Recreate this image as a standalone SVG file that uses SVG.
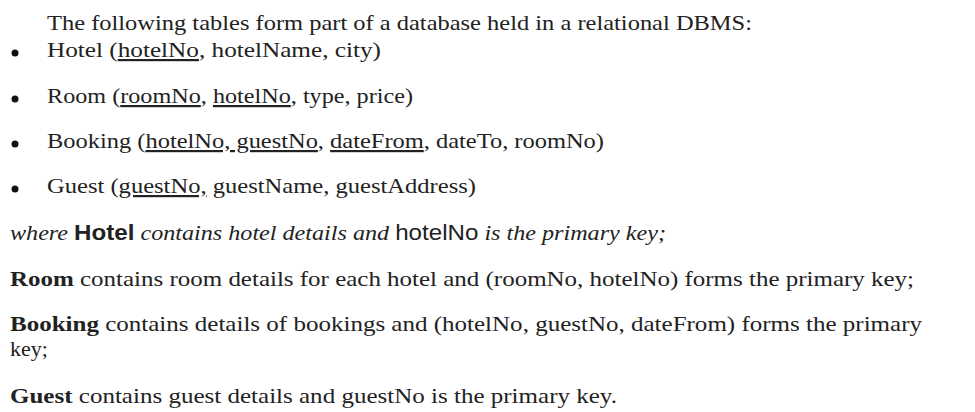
<svg xmlns="http://www.w3.org/2000/svg" width="975" height="412" viewBox="0 0 975 412">
<style>
text{font-family:"Liberation Serif","DejaVu Serif",serif;font-size:22px;fill:#222}
.u{text-decoration:underline}
.s{font-family:"Liberation Sans",Arial,sans-serif}
.b{font-weight:bold}
.i{font-style:italic}
circle{fill:#111}
</style>
<rect width="975" height="412" fill="#fff"/>
<text x="47" y="30" textLength="705" lengthAdjust="spacingAndGlyphs">The following tables form part of a database held in a relational DBMS:</text>
<circle cx="15" cy="53" r="3.5"/>
<text x="47" y="57" textLength="334" lengthAdjust="spacingAndGlyphs">Hotel (<tspan class="u">hotelNo</tspan>, hotelName, city)</text>
<circle cx="15" cy="99" r="3.5"/>
<text x="47" y="103" textLength="366" lengthAdjust="spacingAndGlyphs">Room (<tspan class="u">roomNo</tspan>, <tspan class="u">hotelNo</tspan>, type, price)</text>
<circle cx="15" cy="144" r="3.5"/>
<text x="47" y="148" textLength="557" lengthAdjust="spacingAndGlyphs">Booking (<tspan class="u">hotelNo, guestNo</tspan>, <tspan class="u">dateFrom</tspan>, dateTo, roomNo)</text>
<circle cx="15" cy="189" r="3.5"/>
<text x="47" y="193" textLength="429" lengthAdjust="spacingAndGlyphs">Guest (<tspan class="u">guestNo,</tspan> guestName, guestAddress)</text>
<text x="10" y="240" class="i" textLength="656" lengthAdjust="spacingAndGlyphs">where <tspan class="s b" font-style="normal">Hotel</tspan> contains hotel details and <tspan class="s" font-style="normal">hotelNo</tspan> is the primary key;</text>
<text x="10" y="286" textLength="904" lengthAdjust="spacingAndGlyphs"><tspan class="b">Room</tspan> contains room details for each hotel and (roomNo, hotelNo) forms the primary key;</text>
<text x="10" y="331" textLength="912" lengthAdjust="spacingAndGlyphs"><tspan class="b">Booking</tspan> contains details of bookings and (hotelNo, guestNo, dateFrom) forms the primary</text>
<text x="10" y="356">key;</text>
<text x="10" y="403" textLength="607" lengthAdjust="spacingAndGlyphs"><tspan class="b">Guest</tspan> contains guest details and guestNo is the primary key.</text>
</svg>
